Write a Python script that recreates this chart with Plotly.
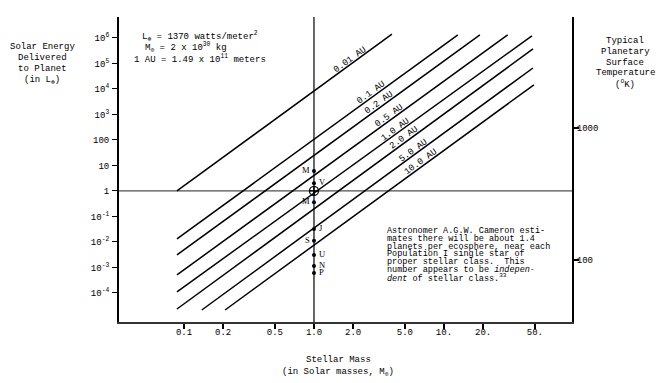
import numpy as np
import plotly.graph_objects as go

# ---------------- data ----------------
au_labels = ["0.01 AU", "0.1 AU", "0.2 AU", "0.5 AU", "1.0 AU", "2.0 AU", "5.0 AU", "10.0 AU"]
line_mass_start = [0.0883, 0.0883, 0.0883, 0.0883, 0.0883, 0.0883, 0.137, 0.207]
line_energy_start = [1.0, 0.0132, 0.00309, 5.1e-4, 1.1e-4, 2.34e-5, 2.14e-5, 2.14e-5]
line_mass_end = [3.98, 12.8, 18.9, 30.9, 47.5, 48.4, 48.4, 49.2]
line_energy_end = [1.41e6, 1.32e6, 1.32e6, 1.32e6, 1.2e6, 3.7e5, 6.6e4, 1.45e4]
label_mass = [1.89, 2.74, 3.16, 3.78, 4.20, 4.92, 5.78, 6.65]

planet_labels = ["M", "V", "", "M", "J", "S", "U", "N", "P"]
planet_energy = [6.1, 2.0, 1.0, 0.36, 0.032, 0.011, 0.0031, 0.00115, 0.0006]
planet_side = ["left", "right", "", "left", "right", "left", "right", "right", "right"]
sun_mass = 1.0
earth_energy = 1.0

x_tick_vals = [0.1, 0.2, 0.5, 1.0, 2.0, 5.0, 10, 20, 50]
x_tick_text = ["0.1", "0.2", "0.5", "1.0", "2.0", "5.0", "10.", "20.", "50."]
y_tick_vals = [1e6, 1e5, 1e4, 1e3, 100, 10, 1, 0.1, 0.01, 0.001, 1e-4]
y_tick_text = ["10<sup>6</sup>", "10<sup>5</sup>", "10<sup>4</sup>", "10<sup>3</sup>", "100", "10", "1",
               "10<sup>-1</sup>", "10<sup>-2</sup>", "10<sup>-3</sup>", "10<sup>-4</sup>"]
temp_tick_vals = [100, 1000]
temp_tick_text = ["100", "1000"]

note_lines = ["Astronomer A.G.W. Cameron esti-",
              "mates there will be about 1.4",
              "planets per ecosphere, near each",
              "Population I single star of",
              "proper stellar class.  This",
              "number appears to be <i>indepen-</i>",
              "<i>dent</i> of stellar class.<sup>33</sup>"]
const_lines = ["L<sub>⊕</sub> = 1370 watts/meter<sup>2</sup>",
               "M<sub>⊙</sub> = 2 x 10<sup>30</sup> kg",
               "1 AU = 1.49 x 10<sup>11</sup> meters"]
left_title = ["Solar Energy", "Delivered", "to Planet", "(in L<sub>⊕</sub>)"]
right_title = ["Typical", "Planetary", "Surface", "Temperature", "(<sup>o</sup>K)"]
bottom_title = ["Stellar Mass", "(in Solar masses, M<sub>⊙</sub>)"]

# ---------------- layout geometry (screen pixels) ----------------
OFF = 8                      # page body margin added by the browser
W, H = 671 - OFF, 383 - OFF
PLOT_L, PLOT_R, PLOT_T, PLOT_B = 119, 572, 17, 322   # plot area on screen
ML, MT = PLOT_L - OFF, PLOT_T - OFF
PW, PH = PLOT_R - PLOT_L, PLOT_B - PLOT_T
MR, MB = W - ML - PW, H - MT - PH
x_range = [-1.5, 1.985]
y_range = [-5.14, 6.82]
t_range = [1.53, 3.841]

FONT = "Liberation Mono, Courier New, monospace"


def paper(px, py):
    return (px - PLOT_L) / PW, (PLOT_B - py) / PH


fig = go.Figure()

# reference lines (E = 1 and M = 1)
fig.add_trace(go.Scatter(x=[10 ** x_range[0], 10 ** x_range[1]], y=[earth_energy, earth_energy],
                         mode="lines", line=dict(color="#222", width=1), hoverinfo="skip", showlegend=False))
fig.add_trace(go.Scatter(x=[sun_mass, sun_mass], y=[10 ** y_range[0], 10 ** y_range[1]],
                         mode="lines", line=dict(color="black", width=1.2), hoverinfo="skip", showlegend=False))

# distance lines
for i in range(len(au_labels)):
    fig.add_trace(go.Scatter(x=[line_mass_start[i], line_mass_end[i]],
                             y=[line_energy_start[i], line_energy_end[i]],
                             mode="lines", line=dict(color="black", width=1.5),
                             hoverinfo="skip", showlegend=False))

# planets
fig.add_trace(go.Scatter(x=[sun_mass for l in planet_labels if l],
                         y=[e for e, l in zip(planet_energy, planet_labels) if l],
                         mode="markers", marker=dict(color="black", size=4),
                         hoverinfo="skip", showlegend=False))
fig.add_trace(go.Scatter(x=[sun_mass], y=[earth_energy], mode="markers",
                         marker=dict(symbol="circle-cross-open", size=9, color="black", line=dict(width=1.3)),
                         hoverinfo="skip", showlegend=False))

# invisible trace for temperature axis
fig.add_trace(go.Scatter(x=[sun_mass], y=[300], yaxis="y2", mode="markers",
                         marker=dict(opacity=0), hoverinfo="skip", showlegend=False))

ann = []
# AU labels along lines
for i, lab in enumerate(au_labels):
    lx0, lx1 = np.log10(line_mass_start[i]), np.log10(line_mass_end[i])
    ly0, ly1 = np.log10(line_energy_start[i]), np.log10(line_energy_end[i])
    lx = np.log10(label_mass[i])
    ly = ly0 + (ly1 - ly0) * (lx - lx0) / (lx1 - lx0)
    ann.append(dict(x=lx, y=ly, xref="x", yref="y", text=lab, showarrow=False, textangle=-36,
                    yshift=5, font=dict(family=FONT, size=9, color="black")))

# planet labels
for lab, e, side in zip(planet_labels, planet_energy, planet_side):
    if not lab:
        continue
    ann.append(dict(x=np.log10(sun_mass), y=np.log10(e), xref="x", yref="y", text=lab, showarrow=False,
                    xanchor="right" if side == "left" else "left",
                    xshift=-2 if side == "left" else 3, yshift=1,
                    font=dict(family="Liberation Serif, serif", size=8.5, color="black")))


def text_at(px, py, txt, anchor="center", size=9):
    xp, yp = paper(px, py)
    ann.append(dict(x=xp, y=yp, xref="paper", yref="paper", text=txt, showarrow=False,
                    xanchor=anchor, yanchor="middle", font=dict(family=FONT, size=size, color="black")))


for txt, px, py in zip(const_lines, [140, 143, 132], [37, 48, 59]):
    text_at(px, py, txt, "left")
for txt, py in zip(left_title, [47, 58, 69, 80]):
    text_at(42, py, txt)
for txt, py in zip(right_title, [41, 52, 63, 73, 84]):
    text_at(625, py, txt)
for txt, py in zip(bottom_title, [360, 372]):
    text_at(338, py, txt)
for k, txt in enumerate(note_lines):
    text_at(385, 231 + 7.8 * k, txt, "left", size=8.5)

axis_font = dict(family=FONT, size=9, color="black")
fig.update_layout(
    width=W, height=H,
    margin=dict(l=ML, r=MR, t=MT, b=MB, pad=0, autoexpand=False),
    paper_bgcolor="white", plot_bgcolor="white",
    showlegend=False,
    xaxis=dict(type="log", range=x_range, tickvals=x_tick_vals, ticktext=x_tick_text,
               ticks="outside", ticklen=5, tickwidth=1.5, tickcolor="black", ticklabelstandoff=-5,
               showline=True, linecolor="#333", linewidth=1.5, showgrid=False, zeroline=False,
               tickfont=axis_font, fixedrange=True),
    yaxis=dict(type="log", range=y_range, tickvals=y_tick_vals, ticktext=y_tick_text,
               ticks="outside", ticklen=5, tickwidth=1.2, tickcolor="black", ticklabelstandoff=1,
               showline=True, linecolor="black", linewidth=2, showgrid=False, zeroline=False,
               tickfont=axis_font, fixedrange=True),
    yaxis2=dict(type="log", range=t_range, overlaying="y", side="right",
                tickvals=temp_tick_vals, ticktext=temp_tick_text,
                ticks="outside", ticklen=5, tickwidth=1.5, tickcolor="black", ticklabelstandoff=-4,
                showline=True, linecolor="black", linewidth=2, showgrid=False, zeroline=False,
                tickfont=axis_font, fixedrange=True),
    annotations=ann,
)

fig.write_html("out.html")
